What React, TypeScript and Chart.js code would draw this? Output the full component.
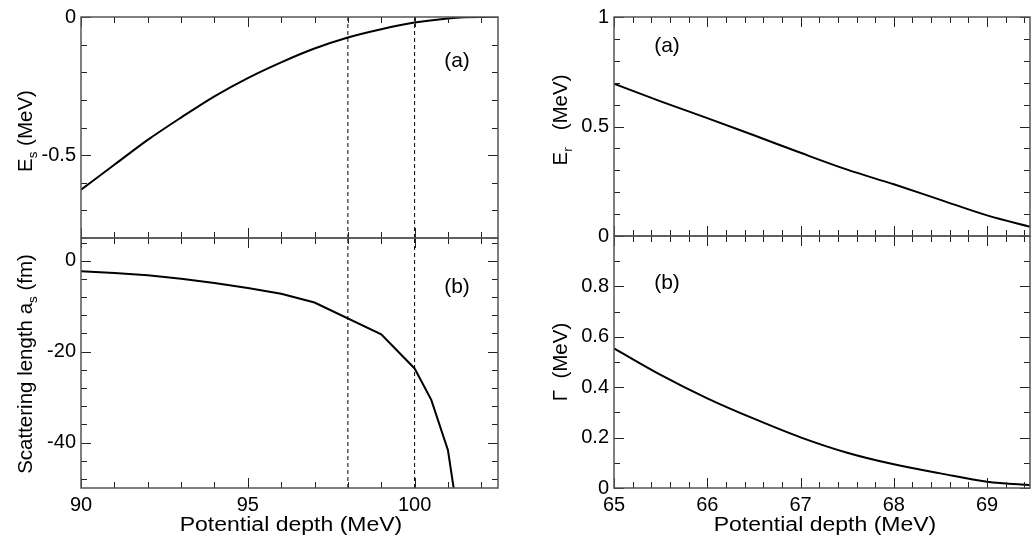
import React, { useEffect, useRef } from "react";
import { Chart, registerables } from "chart.js";

Chart.register(...registerables);

const PAGE_W = 1031;
const PAGE_H = 543;
const FONT = "'Liberation Sans', Arial, Helvetica, sans-serif";

// ---------------- data ----------------
// left column: bound s-state energy and scattering length vs potential depth
const esDepth = [90, 91, 92, 93, 94, 95, 96, 97, 98, 99, 100, 101, 101.5, 102, 102.5];
const esEnergy = [-0.625, -0.535, -0.445, -0.364, -0.287, -0.221, -0.164, -0.114, -0.074, -0.044, -0.02, -0.005, -0.001, 0, 0];

const asDepth = [90, 91, 92, 93, 94, 95, 96, 97, 99, 100, 100.5, 101, 101.5];
const asLength = [-2.3, -2.7, -3.2, -3.95, -4.9, -6.0, -7.25, -9.2, -16.2, -23.7, -30.6, -41.7, -66];

const markerDepths = [98, 100];

// right column: resonance energy and width vs potential depth
const resDepth = [65, 65.5, 66, 66.5, 67, 67.5, 68, 68.5, 69, 69.5];
const erEnergy = [0.695, 0.615, 0.538, 0.46, 0.38, 0.303, 0.236, 0.165, 0.094, 0.038];
const gammaWidth = [0.554, 0.449, 0.356, 0.275, 0.201, 0.14, 0.094, 0.058, 0.025, 0.011];

// tick labels
const leftDepthLabels = [90, 95, 100];
const esLabels = [0, -0.5];
const asLabels = [0, -20, -40];
const rightDepthLabels = [65, 66, 67, 68, 69];
const erLabels = [0, 0.5, 1];
const gammaLabels = [0, 0.2, 0.4, 0.6, 0.8];

const xTitleText = "Potential depth (MeV)";

// ---------------- panel definitions ----------------
type Part = { t: string; sub?: boolean };
type TickSpec = { major: number; minor: number };
type PanelDef = {
  plot: [number, number, number, number]; // left, top, right, bottom (px)
  xRange: [number, number];
  yRange: [number, number];
  xs: number[];
  ys: number[];
  smooth: boolean;
  markers: number[];
  xLabels: number[];
  yLabels: number[];
  xTicks: TickSpec;
  yTicks: TickSpec;
  yTitle: Part[];
  yTitleAt: [number, number]; // baseline x, center y
  xTitleAt?: [number, number]; // center x, baseline y
  tag: { text: string; at: [number, number] };
};

const panels: PanelDef[] = [
  {
    plot: [81, 16, 498, 238],
    xRange: [90, 102.5],
    yRange: [-0.8, 0],
    xs: esDepth,
    ys: esEnergy,
    smooth: true,
    markers: markerDepths,
    xLabels: [],
    yLabels: esLabels,
    xTicks: { major: 5, minor: 1 },
    yTicks: { major: 0.5, minor: 0.1 },
    yTitle: [{ t: "E" }, { t: "s", sub: true }, { t: " (MeV)" }],
    yTitleAt: [32, 131],
    tag: { text: "(a)", at: [457, 61] },
  },
  {
    plot: [81, 238, 498, 488],
    xRange: [90, 102.5],
    yRange: [-50, 5],
    xs: asDepth,
    ys: asLength,
    smooth: false,
    markers: markerDepths,
    xLabels: leftDepthLabels,
    yLabels: asLabels,
    xTicks: { major: 5, minor: 1 },
    yTicks: { major: 20, minor: 4 },
    yTitle: [{ t: "Scattering length a" }, { t: "s", sub: true }, { t: " (fm)" }],
    yTitleAt: [32, 364],
    xTitleAt: [291, 531],
    tag: { text: "(b)", at: [457, 287] },
  },
  {
    plot: [614, 13, 1030, 236],
    xRange: [65, 69.46],
    yRange: [0, 1],
    xs: resDepth,
    ys: erEnergy,
    smooth: true,
    markers: [],
    xLabels: [],
    yLabels: erLabels,
    xTicks: { major: 1, minor: 0.2 },
    yTicks: { major: 0.5, minor: 0.1 },
    yTitle: [{ t: "E" }, { t: "r", sub: true }, { t: "   (MeV)" }],
    yTitleAt: [567, 120],
    tag: { text: "(a)", at: [667, 46] },
  },
  {
    plot: [614, 236, 1030, 488],
    xRange: [65, 69.46],
    yRange: [0, 1],
    xs: resDepth,
    ys: gammaWidth,
    smooth: true,
    markers: [],
    xLabels: rightDepthLabels,
    yLabels: gammaLabels,
    xTicks: { major: 1, minor: 0.2 },
    yTicks: { major: 0.2, minor: 0.1 },
    yTitle: [{ t: "\u0393" }, { t: "  (MeV)" }],
    yTitleAt: [567, 362],
    xTitleAt: [825, 531],
    tag: { text: "(b)", at: [667, 283] },
  },
];

// ---------------- helpers ----------------
function tickList(range: [number, number], spec: TickSpec) {
  const out: { v: number; major: boolean }[] = [];
  const start = Math.ceil(range[0] / spec.minor - 1e-9);
  const end = Math.floor(range[1] / spec.minor + 1e-9);
  for (let i = start; i <= end; i++) {
    const v = +(i * spec.minor).toFixed(9);
    const r = v / spec.major;
    out.push({ v, major: Math.abs(r - Math.round(r)) < 1e-6 });
  }
  return out;
}

function partsWidth(ctx: CanvasRenderingContext2D, parts: Part[], size: number) {
  let w = 0;
  for (const p of parts) {
    ctx.font = `${p.sub ? size * 0.65 : size}px ${FONT}`;
    w += ctx.measureText(p.t).width;
  }
  return w;
}

function drawParts(ctx: CanvasRenderingContext2D, parts: Part[], size: number, x0: number) {
  let x = x0;
  for (const p of parts) {
    const fs = p.sub ? size * 0.65 : size;
    ctx.font = `${fs}px ${FONT}`;
    ctx.fillText(p.t, x, p.sub ? size * 0.25 : 0);
    x += ctx.measureText(p.t).width;
  }
}

function decoPlugin(def: PanelDef) {
  return {
    id: "panelDeco",
    afterDraw(chart: any) {
      const ctx: CanvasRenderingContext2D = chart.ctx;
      const a = chart.chartArea;
      const xs = chart.scales.x;
      const ys = chart.scales.y;
      ctx.save();
      // inward ticks on all four sides
      ctx.strokeStyle = "#222";
      ctx.lineWidth = 1;
      ctx.beginPath();
      for (const t of tickList(def.xRange, def.xTicks)) {
        const px = Math.round(xs.getPixelForValue(t.v)) + 0.5;
        const len = t.major ? 10 : 6;
        ctx.moveTo(px, a.bottom);
        ctx.lineTo(px, a.bottom - len);
        ctx.moveTo(px, a.top);
        ctx.lineTo(px, a.top + len);
      }
      for (const t of tickList(def.yRange, def.yTicks)) {
        const py = Math.round(ys.getPixelForValue(t.v)) + 0.5;
        const len = t.major ? 10 : 6;
        ctx.moveTo(a.left, py);
        ctx.lineTo(a.left + len, py);
        ctx.moveTo(a.right, py);
        ctx.lineTo(a.right - len, py);
      }
      ctx.stroke();
      // frame
      ctx.strokeStyle = "#555";
      ctx.lineWidth = 1.5;
      ctx.strokeRect(a.left, a.top, a.right - a.left, a.bottom - a.top);

      ctx.fillStyle = "#000";
      // panel tag
      ctx.font = `21px ${FONT}`;
      ctx.textAlign = "center";
      ctx.textBaseline = "middle";
      ctx.fillText(def.tag.text, def.tag.at[0], def.tag.at[1]);

      // y title (rotated)
      ctx.textAlign = "left";
      ctx.textBaseline = "alphabetic";
      const ySize = 20.5;
      const w = partsWidth(ctx, def.yTitle, ySize);
      ctx.save();
      ctx.translate(def.yTitleAt[0], def.yTitleAt[1]);
      ctx.rotate(-Math.PI / 2);
      drawParts(ctx, def.yTitle, ySize, -w / 2);
      ctx.restore();

      // x title
      if (def.xTitleAt) {
        ctx.save();
        ctx.translate(def.xTitleAt[0], def.xTitleAt[1]);
        ctx.scale(1.18, 1);
        ctx.font = `19.5px ${FONT}`;
        ctx.textAlign = "center";
        ctx.fillText(xTitleText, 0, 0);
        ctx.restore();
      }
      ctx.restore();
    },
  };
}

function buildConfig(def: PanelDef): any {
  const [left, top, right, bottom] = def.plot;
  const YW = 70;
  const showX = def.xLabels.length > 0;
  const XH = showX ? 40 : 0;
  const datasets: any[] = [
    {
      data: def.xs.map((x, i) => ({ x, y: def.ys[i] })),
      borderColor: "#000",
      borderWidth: 2,
      pointRadius: 0,
      tension: def.smooth ? 0.4 : 0,
      cubicInterpolationMode: def.smooth ? "monotone" : "default",
      fill: false,
    },
    ...def.markers.map((m) => ({
      data: [
        { x: m, y: def.yRange[0] },
        { x: m, y: def.yRange[1] },
      ],
      borderColor: "#000",
      borderWidth: 1,
      borderDash: [4, 3],
      pointRadius: 0,
      fill: false,
    })),
  ];
  return {
    type: "line",
    data: { datasets },
    options: {
      animation: false,
      responsive: false,
      devicePixelRatio: 1,
      events: [],
      layout: {
        padding: {
          left: left - YW,
          top: top,
          right: PAGE_W - right,
          bottom: PAGE_H - bottom - XH,
        },
      },
      plugins: { legend: { display: false }, tooltip: { enabled: false } },
      scales: {
        x: {
          type: "linear",
          min: def.xRange[0],
          max: def.xRange[1],
          display: showX,
          grid: { display: false, drawTicks: false },
          border: { display: false },
          ticks: {
            autoSkip: false,
            maxRotation: 0,
            padding: 5,
            color: "#000",
            font: { family: FONT, size: 20 },
            callback: (v: number) => String(v),
          },
          afterBuildTicks: (s: any) => {
            s.ticks = def.xLabels.map((v) => ({ value: v }));
          },
          afterFit: (s: any) => {
            s.height = XH;
          },
        },
        y: {
          type: "linear",
          min: def.yRange[0],
          max: def.yRange[1],
          grid: { display: false, drawTicks: false },
          border: { display: false },
          ticks: {
            autoSkip: false,
            padding: 5,
            color: "#000",
            font: { family: FONT, size: 20 },
            callback: (v: number) => String(v),
          },
          afterBuildTicks: (s: any) => {
            s.ticks = def.yLabels.map((v) => ({ value: v }));
          },
          afterFit: (s: any) => {
            s.width = YW;
          },
        },
      },
    },
    plugins: [decoPlugin(def)],
  };
}

function Panel({ def }: { def: PanelDef }) {
  const ref = useRef<HTMLCanvasElement>(null);
  useEffect(() => {
    if (!ref.current) return;
    const chart = new Chart(ref.current, buildConfig(def));
    return () => chart.destroy();
  }, [def]);
  return (
    <canvas
      ref={ref}
      width={PAGE_W}
      height={PAGE_H}
      style={{ position: "absolute", left: 0, top: 0, width: PAGE_W, height: PAGE_H }}
    />
  );
}

export default function App() {
  return (
    <div
      style={{
        position: "fixed",
        left: 0,
        top: 0,
        width: PAGE_W,
        height: PAGE_H,
        background: "#fff",
        overflow: "hidden",
      }}
    >
      {panels.map((d, i) => (
        <Panel key={i} def={d} />
      ))}
    </div>
  );
}
